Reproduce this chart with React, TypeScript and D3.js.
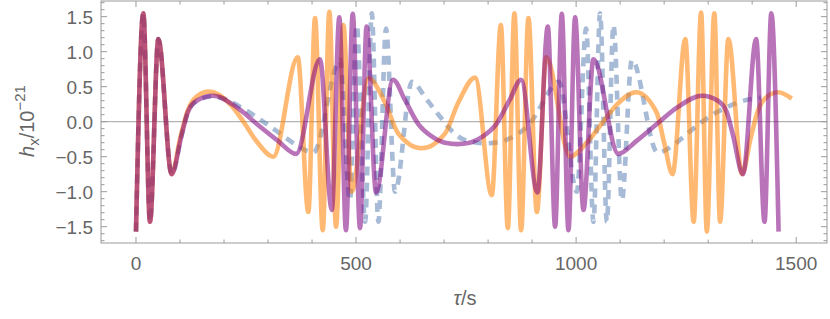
import React from 'react';
import * as d3 from 'd3';

// ---- data (tau in s, h_x in units of 1e-21) ----
const xTickValues = [0, 500, 1000, 1500];
const xTickLabels = ['0', '500', '1000', '1500'];
const yTickValues = [-1.5, -1.0, -0.5, 0, 0.5, 1.0, 1.5];
const yTickLabels = ['\u22121.5', '\u22121.0', '\u22120.5', '0.0', '0.5', '1.0', '1.5'];

const orangeData: [number, number][] = [
  [0, -1.57], [16.6, 1.55], [31.8, -1.43], [50.8, 1.18], [81, -0.75], [101, -0.22], [117, 0.15],
  [138, 0.36], [166, 0.43], [214, 0.25], [244, 0.0], [274, -0.28], [312, -0.5], [367.5, 0.92],
  [391.6, -1.29], [406.8, 1.48], [424.3, -1.55], [439.3, 1.57], [454.5, -1.5], [471, 1.38],
  [490, -1.0], [528, 0.62], [566, 0.27], [596, -0.17], [649, -0.38], [702, -0.17], [732, 0.27],
  [770.5, 0.63], [808.4, -1.05], [829, 1.38], [844.8, -1.52], [859.8, 1.55], [875, -1.55],
  [891.6, 1.48], [910.7, -1.29], [932, 0.92], [986, -0.5], [1024, -0.3], [1058, -0.03],
  [1092, 0.24], [1136, 0.42], [1183, 0.13], [1200, -0.3], [1219, -0.75], [1248, 1.18],
  [1267, -1.43], [1284, 1.56], [1297, -1.57], [1314, 1.55], [1327, -1.43], [1346, 1.18],
  [1377, -0.75], [1396, -0.25], [1412, 0.14], [1434, 0.36], [1459, 0.42], [1490, 0.33],
];

const purpleData: [number, number][] = [
  [0, -1.57], [16.6, 1.55], [31.8, -1.43], [50.8, 1.18], [81, -0.75], [104, -0.18], [118, 0.14],
  [138, 0.3], [175, 0.37], [230, 0.2], [276, -0.04], [322, -0.27], [364, -0.46], [418, 0.89],
  [444.8, -1.26], [462, 1.49], [477, -1.55], [492.5, 1.54], [509, -1.52], [524, 1.36],
  [545.5, -1.01], [584, 0.6], [611, 0.31], [641, -0.03], [672, -0.21], [702, -0.3], [730, -0.32],
  [758, -0.3], [788, -0.21], [819, -0.03], [849, 0.31], [875, 0.6], [912, -1.01], [935.7, 1.36],
  [952.3, -1.5], [967.5, 1.54], [982.5, -1.55], [997.7, 1.49], [1016.6, -1.26], [1039.3, 0.89],
  [1096, -0.46], [1138, -0.27], [1184, -0.03], [1229, 0.2], [1286, 0.37], [1322, 0.3],
  [1342, 0.14], [1356, -0.18], [1379, -0.75], [1409, 1.18], [1428, -1.43], [1443.5, 1.55],
  [1460, -1.57],
];

const blueData: [number, number][] = [
  [0, -1.57], [16.6, 1.55], [31.8, -1.43], [50.8, 1.18], [81, -0.75], [104, -0.18], [118, 0.14],
  [138, 0.3], [175, 0.36], [248, 0.17], [289, 0.0], [334, -0.2], [361, -0.32], [403, -0.44],
  [463.6, 0.88], [486, -1.12], [501.5, 1.38], [520.5, -1.43], [535.7, 1.55], [550.7, -1.43],
  [568, 1.33], [588.6, -1.0], [627, 0.57], [659, 0.33], [691, 0.07], [729, -0.2], [764, -0.29],
  [795, -0.31], [826, -0.29], [863, -0.19], [897, -0.01], [916, 0.18], [943, 0.47], [961, 0.57],
  [1001.6, -1.0], [1022.7, 1.33], [1039.3, -1.43], [1054.5, 1.55], [1069.8, -1.43],
  [1084.8, 1.38], [1103.9, -1.12], [1126.6, 0.88], [1185, -0.44], [1232, -0.28], [1262, -0.12],
  [1300, 0.06], [1340, 0.2], [1375, 0.29], [1420, 0.34],
];

const W = 830;
const H = 319;
const frameColor = '#9a9a9a';
const labelColor = '#666666';
const font = '"Liberation Sans", Arial, Helvetica, sans-serif';

export default function App() {
  const x = d3.scaleLinear().domain([-79.5, 1570]).range([101, 827]);
  const y = d3.scaleLinear().domain([-1.733, 1.724]).range([243, 1]);
  const [x0, x1] = x.range();
  const [y0, y1] = y.range();

  const line = d3
    .line<[number, number]>()
    .x((d) => x(d[0]))
    .y((d) => y(d[1]))
    .curve(d3.curveMonotoneX);

  const xMinor = d3.range(0, 1600, 100).filter((v) => x(v) > x0 && x(v) < x1 && v % 500 !== 0);
  const yMinor = d3
    .range(-17, 18)
    .map((i) => i / 10)
    .filter((v) => Math.abs(Math.round(v * 10) % 5) !== 0 && y(v) < y0 && y(v) > y1);

  const majorLen = 6;
  const minorLen = 3.5;

  return (
    <svg
      width={W}
      height={H}
      viewBox={`0 0 ${W} ${H}`}
      style={{ position: 'absolute', left: 0, top: 0, background: '#fff' }}
      fontFamily={font}
    >
      <defs>
        <clipPath id="plotclip">
          <rect x={x0} y={y1} width={x1 - x0} height={y0 - y1} />
        </clipPath>
      </defs>
      <rect x={0} y={0} width={W} height={H} fill="#fff" />

      {/* zero axis */}
      <line x1={x0} x2={x1} y1={y(0)} y2={y(0)} stroke="#b4b4b4" strokeWidth={1.3} />

      <g clipPath="url(#plotclip)" fill="none" strokeLinejoin="round">
        <path
          d={line(blueData) || ''}
          stroke="rgb(94,129,181)"
          strokeOpacity={0.55}
          strokeWidth={4.6}
          strokeDasharray="9,7"
        />
        <path d={line(orangeData) || ''} stroke="rgb(255,128,0)" strokeOpacity={0.55} strokeWidth={4.6} />
        <path d={line(purpleData) || ''} stroke="rgb(128,0,128)" strokeOpacity={0.55} strokeWidth={4.6} />
      </g>

      {/* frame */}
      <rect x={x0} y={y1} width={x1 - x0} height={y0 - y1} fill="none" stroke={frameColor} strokeWidth={1} />

      {/* x ticks */}
      {xTickValues.map((v) => (
        <g key={'xm' + v}>
          <line x1={x(v)} x2={x(v)} y1={y0} y2={y0 - majorLen} stroke={frameColor} />
          <line x1={x(v)} x2={x(v)} y1={y1} y2={y1 + majorLen} stroke={frameColor} />
        </g>
      ))}
      {xMinor.map((v) => (
        <g key={'xn' + v}>
          <line x1={x(v)} x2={x(v)} y1={y0} y2={y0 - minorLen} stroke={frameColor} />
          <line x1={x(v)} x2={x(v)} y1={y1} y2={y1 + minorLen} stroke={frameColor} />
        </g>
      ))}
      {/* y ticks */}
      {yTickValues.map((v) => (
        <g key={'ym' + v}>
          <line x1={x0} x2={x0 + majorLen} y1={y(v)} y2={y(v)} stroke={frameColor} />
          <line x1={x1} x2={x1 - majorLen} y1={y(v)} y2={y(v)} stroke={frameColor} />
        </g>
      ))}
      {yMinor.map((v) => (
        <g key={'yn' + v}>
          <line x1={x0} x2={x0 + minorLen} y1={y(v)} y2={y(v)} stroke={frameColor} />
          <line x1={x1} x2={x1 - minorLen} y1={y(v)} y2={y(v)} stroke={frameColor} />
        </g>
      ))}

      {/* tick labels */}
      {xTickValues.map((v, i) => (
        <text key={'xl' + v} x={x(v)} y={270} textAnchor="middle" fontSize={19} fill={labelColor}>
          {xTickLabels[i]}
        </text>
      ))}
      {yTickValues.map((v, i) => (
        <text key={'yl' + v} x={93} y={y(v) + 7} textAnchor="end" fontSize={19} fill={labelColor}>
          {yTickLabels[i]}
        </text>
      ))}

      {/* axis labels */}
      <text x={465} y={305} textAnchor="middle" fontSize={20} fill={labelColor}>
        <tspan fontStyle="italic">τ</tspan>/s
      </text>
      <text transform="translate(34,121) rotate(-90)" textAnchor="middle" fontSize={20} fill={labelColor}>
        <tspan fontStyle="italic">h</tspan>
        <tspan fontSize={15} dy={5}>x</tspan>
        <tspan dy={-5}>/10</tspan>
        <tspan fontSize={15} dy={-9}>{'\u221221'}</tspan>
      </text>
    </svg>
  );
}
